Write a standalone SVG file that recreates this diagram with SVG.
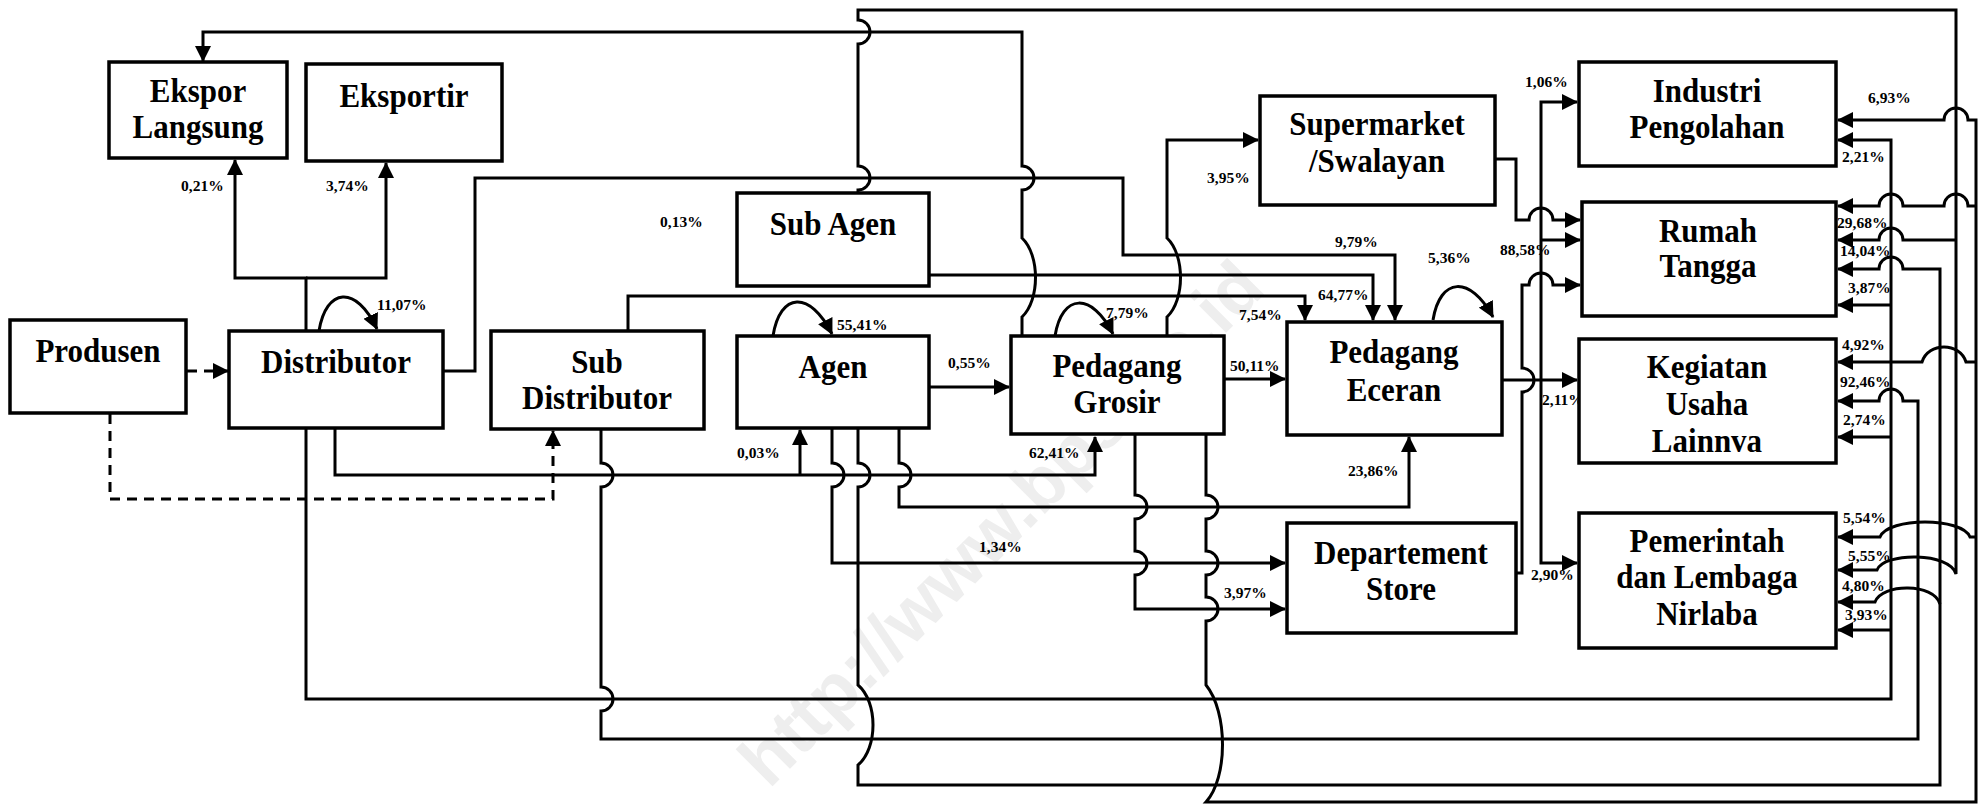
<svg xmlns="http://www.w3.org/2000/svg" width="1981" height="804" viewBox="0 0 1981 804">
<style>
.box{fill:#fff;stroke:#000;stroke-width:3.5}
.t{font-family:"Liberation Serif","Times New Roman",serif;font-weight:bold;font-size:31px;text-anchor:middle;fill:#000;transform-box:fill-box;transform-origin:50% 80%;transform:scaleY(1.1)}
.p{font-family:"Liberation Serif","Times New Roman",serif;font-weight:bold;font-size:15.5px;fill:#000}
.c{fill:none;stroke:#000;stroke-width:3}
.a{marker-end:url(#ah)}
.d{stroke-dasharray:10 7}
.wm{font-family:"Liberation Sans",Arial,sans-serif;font-weight:bold;font-size:72px;fill:#eeeeee;text-anchor:middle}
</style>
<defs>
<marker id="ah" viewBox="0 0 16 16" refX="15" refY="8" markerWidth="16" markerHeight="16" markerUnits="userSpaceOnUse" orient="auto">
<path d="M0,0 L16,8 L0,16 z" fill="#000"/>
</marker>
</defs>
<rect width="1981" height="804" fill="#fff"/>
<text class="wm" x="1000" y="548" transform="rotate(-45 1000 522)">http://www.bps.go.id</text>

<g id="connectors">
<path class="c d a" d="M187,371 H228"/>
<path class="c d a" d="M110,414 V499 H553 V431"/>
<path class="c a" d="M306,331 V278 H235 V160"/>
<path class="c a" d="M306,278 H386 V163"/>
<path class="c a" d="M443,371 H475 V178 H1123 V255 H1395 V320"/>
<path class="c a" d="M1022,336 V317 C1040,300 1040,255 1022,238 V190 A12,12 0 0 0 1022,166 V32 H203 V61"/>
<path class="c a" d="M858,193 V190 A12,12 0 0 0 858,166 V44 A12,12 0 0 0 858,20 V10 H1956 V574 C1950,552 1884,552 1877,570 H1838"/>
<path class="c a" d="M1956,240 H1903 A12,12 0 0 0 1879,240 H1838"/>
<path class="c a" d="M628,331 V296 H1305 V320"/>
<path class="c a" d="M929,275 H1373 V320"/>
<path class="c a" d="M929,387 H1009"/>
<path class="c a" d="M1224,379 H1285"/>
<path class="c a" d="M1167,336 V317 C1185,300 1185,255 1167,238 V140 H1258"/>
<path class="c a" d="M1495,159 H1516 V220 H1529 A12,12 0 0 1 1553,220 H1580"/>
<path class="c a" d="M1502,380 H1577"/>
<path class="c a" d="M1541,380 V102 H1577"/>
<path class="c a" d="M1541,240 H1580"/>
<path class="c a" d="M1541,380 V563 H1577"/>
<path class="c a" d="M1516,573 H1522 V392 A12,12 0 0 0 1522,368 V285 H1529 A12,12 0 0 1 1553,285 H1580"/>
<path class="c a" d="M335,428 V475 H1095 V437"/>
<path class="c a" d="M800,475 V430"/>
<path class="c a" d="M601,430 V463 A12,12 0 0 1 601,487 V687 A12,12 0 0 1 601,711 V739 H1918 V401 H1903 A12,12 0 0 0 1879,401 H1838"/>
<path class="c a" d="M306,428 V699 H1891 V140 H1838"/>
<path class="c a" d="M1891,305 H1838"/>
<path class="c a" d="M1891,437 H1838"/>
<path class="c a" d="M1891,630 H1838"/>
<path class="c a" d="M832,429 V463 A12,12 0 0 1 832,487 V563 H1285"/>
<path class="c a" d="M858,429 V463 A12,12 0 0 1 858,487 V685 C878,702 878,748 858,765 V785 H1940 V269 H1903 A12,12 0 0 0 1879,269 H1838"/>
<path class="c a" d="M1940,604 C1934,583 1882,583 1875,602 H1838"/>
<path class="c a" d="M899,429 V463 A12,12 0 0 1 899,487 V507 H1409 V437"/>
<path class="c a" d="M1135,435 V495 A12,12 0 0 1 1135,519 V551 A12,12 0 0 1 1135,575 V609 H1285"/>
<path class="c a" d="M1206,435 V495 A12,12 0 0 1 1206,519 V551 A12,12 0 0 1 1206,575 V597 A12,12 0 0 1 1206,621 V685 C1228,712 1228,778 1206,802 H1976 V120 H1968 A12,12 0 0 0 1944,120 H1838"/>
<path class="c a" d="M1976,206 H1968 A12,12 0 0 0 1944,206 H1903 A12,12 0 0 0 1879,206 H1838"/>
<path class="c a" d="M1976,362 H1966 C1960,342 1928,342 1922,362 H1838"/>
<path class="c a" d="M1976,537 H1970 C1962,517 1888,517 1880,537 H1838"/>
<path class="c a" d="M319,331 C326,288 356,284 377,329"/>
<path class="c a" d="M773,336 C780,292 810,290 832,334"/>
<path class="c a" d="M1055,336 C1062,293 1092,292 1113,334"/>
<path class="c a" d="M1433,320 C1440,277 1470,275 1493,317"/>
</g>

<g id="labels">
<text class="p" x="181" y="191">0,21%</text>
<text class="p" x="326" y="191">3,74%</text>
<text class="p" x="377" y="310">11,07%</text>
<text class="p" x="660" y="227">0,13%</text>
<text class="p" x="837" y="330">55,41%</text>
<text class="p" x="1106" y="318">7,79%</text>
<text class="p" x="1239" y="320">7,54%</text>
<text class="p" x="948" y="368">0,55%</text>
<text class="p" x="1230" y="371">50,11%</text>
<text class="p" x="1207" y="183">3,95%</text>
<text class="p" x="1335" y="247">9,79%</text>
<text class="p" x="1318" y="300">64,77%</text>
<text class="p" x="1428" y="263">5,36%</text>
<text class="p" x="1500" y="255">88,58%</text>
<text class="p" x="1542" y="405">2,11%</text>
<text class="p" x="1525" y="87">1,06%</text>
<text class="p" x="1531" y="580">2,90%</text>
<text class="p" x="1029" y="458">62,41%</text>
<text class="p" x="737" y="458">0,03%</text>
<text class="p" x="979" y="552">1,34%</text>
<text class="p" x="1224" y="598">3,97%</text>
<text class="p" x="1348" y="476">23,86%</text>
<text class="p" x="1868" y="103">6,93%</text>
<text class="p" x="1842" y="162">2,21%</text>
<text class="p" x="1837" y="228">29,68%</text>
<text class="p" x="1840" y="256">14,04%</text>
<text class="p" x="1848" y="293">3,87%</text>
<text class="p" x="1842" y="350">4,92%</text>
<text class="p" x="1840" y="387">92,46%</text>
<text class="p" x="1843" y="425">2,74%</text>
<text class="p" x="1843" y="523">5,54%</text>
<text class="p" x="1848" y="561">5,55%</text>
<text class="p" x="1842" y="591">4,80%</text>
<text class="p" x="1845" y="620">3,93%</text>
</g>

<g id="n-ekspor-langsung"><rect class="box" x="109" y="62" width="178" height="96"/><text class="t" x="198" y="102">Ekspor</text><text class="t" x="198" y="138">Langsung</text></g>
<g id="n-eksportir"><rect class="box" x="306" y="64" width="196" height="97"/><text class="t" x="404" y="107">Eksportir</text></g>
<g id="n-produsen"><rect class="box" x="10" y="320" width="176" height="93"/><text class="t" x="98" y="362">Produsen</text></g>
<g id="n-distributor"><rect class="box" x="229" y="331" width="214" height="97"/><text class="t" x="336" y="373">Distributor</text></g>
<g id="n-sub-distributor"><rect class="box" x="491" y="331" width="213" height="98"/><text class="t" x="597" y="373">Sub</text><text class="t" x="597" y="409">Distributor</text></g>
<g id="n-sub-agen"><rect class="box" x="737" y="193" width="192" height="93"/><text class="t" x="833" y="235">Sub Agen</text></g>
<g id="n-agen"><rect class="box" x="737" y="336" width="192" height="92"/><text class="t" x="833" y="378">Agen</text></g>
<g id="n-pedagang-grosir"><rect class="box" x="1011" y="336" width="213" height="98"/><text class="t" x="1117" y="377">Pedagang</text><text class="t" x="1117" y="413">Grosir</text></g>
<g id="n-supermarket"><rect class="box" x="1260" y="96" width="235" height="109"/><text class="t" x="1377" y="135">Supermarket</text><text class="t" x="1377" y="172">/Swalayan</text></g>
<g id="n-pedagang-eceran"><rect class="box" x="1287" y="322" width="215" height="113"/><text class="t" x="1394" y="363">Pedagang</text><text class="t" x="1394" y="401">Eceran</text></g>
<g id="n-departement-store"><rect class="box" x="1287" y="523" width="229" height="110"/><text class="t" x="1401" y="564">Departement</text><text class="t" x="1401" y="600">Store</text></g>
<g id="n-industri"><rect class="box" x="1579" y="62" width="257" height="104"/><text class="t" x="1707" y="102">Industri</text><text class="t" x="1707" y="138">Pengolahan</text></g>
<g id="n-rumah-tangga"><rect class="box" x="1582" y="202" width="254" height="114"/><text class="t" x="1708" y="242">Rumah</text><text class="t" x="1708" y="277">Tangga</text></g>
<g id="n-kegiatan"><rect class="box" x="1579" y="339" width="257" height="124"/><text class="t" x="1707" y="378">Kegiatan</text><text class="t" x="1707" y="415">Usaha</text><text class="t" x="1707" y="452">Lainnva</text></g>
<g id="n-pemerintah"><rect class="box" x="1579" y="513" width="257" height="135"/><text class="t" x="1707" y="552">Pemerintah</text><text class="t" x="1707" y="588">dan Lembaga</text><text class="t" x="1707" y="625">Nirlaba</text></g>
</svg>
